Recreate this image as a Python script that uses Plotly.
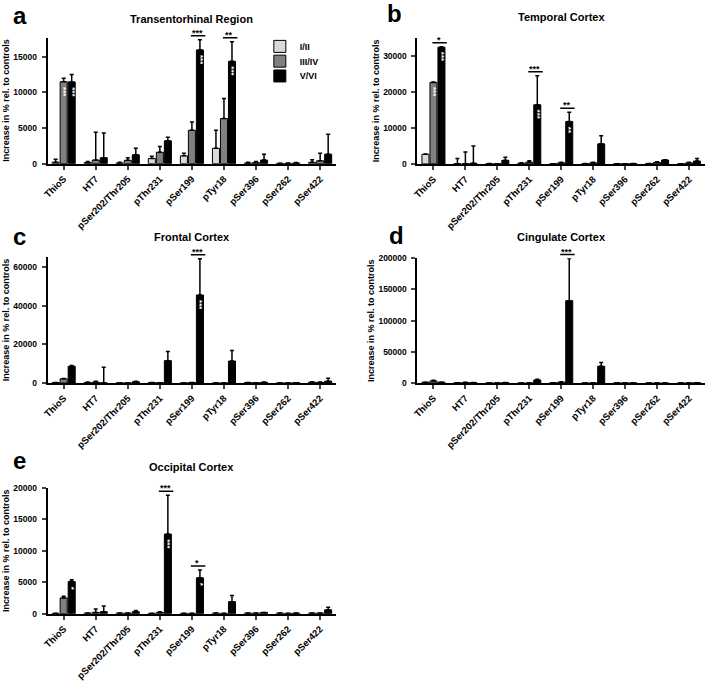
import plotly.graph_objects as go

categories = ["ThioS", "HT7", "pSer202/Thr205", "pThr231", "pSer199",
              "pTyr18", "pSer396", "pSer262", "pSer422"]
stages = ["I/II", "III/IV", "V/VI"]
stage_colors = ["#d9d9d9", "#808080", "#000000"]

# Transentorhinal region (mean, upper SEM) per stage
trans_mean = [[200, 150, 100, 730, 1100, 2150, 100, 50, 180],
              [11500, 500, 460, 1600, 4680, 6330, 150, 50, 400],
              [11470, 830, 1240, 3200, 15960, 14360, 500, 100, 1330]]
trans_sem = [[400, 150, 100, 320, 370, 2530, 100, 0, 370],
             [500, 3900, 370, 800, 1150, 2800, 150, 50, 1070],
             [1030, 3470, 910, 500, 1440, 2740, 830, 50, 2800]]

# Temporal cortex
temp_mean = [[2700, 50, 50, 200, 50, 50, 50, 100, 50],
             [22750, 50, 50, 500, 300, 300, 50, 400, 300],
             [32570, 200, 1000, 16500, 11830, 5600, 100, 1100, 800]]
temp_sem = [[100, 1500, 100, 100, 0, 100, 0, 0, 0],
            [150, 3250, 0, 400, 200, 200, 0, 200, 200],
            [130, 4800, 900, 8100, 2570, 2300, 0, 100, 700]]

# Frontal cortex
front_mean = [[300, 300, 100, 300, 100, 50, 300, 100, 500],
              [2200, 500, 100, 200, 300, 100, 200, 50, 400],
              [8700, 100, 700, 11600, 45600, 11400, 400, 200, 1000]]
front_sem = [[0, 200, 0, 0, 0, 0, 0, 0, 200],
             [200, 500, 0, 0, 0, 0, 0, 0, 200],
             [400, 8100, 300, 4800, 18800, 5500, 100, 0, 1500]]

# Cingulate cortex
cing_mean = [[1500, 500, 300, 100, 500, 200, 300, 100, 200],
             [3500, 1000, 300, 200, 1500, 300, 300, 100, 300],
             [1500, 800, 800, 5000, 132000, 27000, 300, 100, 500]]
cing_sem = [[0, 0, 0, 0, 0, 0, 0, 0, 0],
            [1000, 500, 0, 0, 500, 0, 0, 0, 0],
            [0, 0, 0, 1000, 67500, 6000, 0, 0, 0]]

# Occipital cortex
occ_mean = [[50, 100, 100, 50, 50, 100, 100, 100, 100],
            [2500, 200, 100, 200, 50, 50, 100, 50, 100],
            [5100, 300, 300, 12640, 5700, 1900, 200, 100, 600]]
occ_sem = [[0, 0, 0, 0, 0, 0, 0, 0, 0],
           [270, 530, 0, 100, 0, 0, 0, 0, 0],
           [300, 900, 200, 6160, 1250, 970, 0, 0, 400]]

# significance bars (category, label) and in-bar stars (category, stage, label)
trans_sig = [("pSer199", "***"), ("pTyr18", "**")]
temp_sig = [("ThioS", "*"), ("pThr231", "***"), ("pSer199", "**")]
front_sig = [("pSer199", "***")]
cing_sig = [("pSer199", "***")]
occ_sig = [("pThr231", "***"), ("pSer199", "*")]

trans_stars = [("ThioS", 1, "***"), ("ThioS", 2, "***"), ("pSer199", 2, "***"), ("pTyr18", 2, "***")]
temp_stars = [("ThioS", 1, "***"), ("ThioS", 2, "***"), ("pThr231", 2, "***"), ("pSer199", 2, "**")]
front_stars = [("pSer199", 2, "***")]
cing_stars = []
occ_stars = [("ThioS", 2, "*"), ("pThr231", 2, "***"), ("pSer199", 2, "*")]

panels = [
    dict(letter="a", title="Transentorhinal Region", mean=trans_mean, sem=trans_sem,
         sig=trans_sig, stars=trans_stars, ymax=17700, dtick=5000,
         px=(42, 333), py=(33, 161), lpos=(5, 11), ts=19),
    dict(letter="b", title="Temporal Cortex", mean=temp_mean, sem=temp_sem,
         sig=temp_sig, stars=temp_stars, ymax=35200, dtick=10000,
         px=(415, 705), py=(33.3, 161.3), lpos=(382, 9), ts=21),
    dict(letter="c", title="Frontal Cortex", mean=front_mean, sem=front_sem,
         sig=front_sig, stars=front_stars, ymax=65300, dtick=20000,
         px=(42, 333), py=(255.7, 383.7), lpos=(5, 235), ts=19.5),
    dict(letter="d", title="Cingulate Cortex", mean=cing_mean, sem=cing_sem,
         sig=cing_sig, stars=cing_stars, ymax=200000, dtick=50000,
         px=(415, 705), py=(257, 383.7), lpos=(384, 234), ts=21),
    dict(letter="e", title="Occipital Cortex", mean=occ_mean, sem=occ_sem,
         sig=occ_sig, stars=occ_stars, ymax=20000, dtick=5000,
         px=(42, 333), py=(490, 617.7), lpos=(5, 462), ts=21),
]

W, H = 708, 682
FONT = "Liberation Sans"
BARGAP = 0.25
slot = (1 - BARGAP) / 3
xs = list(range(len(categories)))

fig = go.Figure()
annotations = []
layout = {}

for i, p in enumerate(panels):
    n = "" if i == 0 else str(i + 1)
    xa, ya = "x" + n, "y" + n
    for k, stage in enumerate(stages):
        fig.add_trace(go.Bar(
            x=xs, y=p["mean"][k], name=stage, xaxis=xa, yaxis=ya,
            offsetgroup=stage,
            marker=dict(color=stage_colors[k], line=dict(color="black", width=1)),
            error_y=dict(type="data", symmetric=False, array=p["sem"][k],
                         arrayminus=[0] * len(xs), color="black",
                         thickness=1.5, width=2),
            showlegend=(i == 0),
            legend=("legend" if k == 0 else "legend" + str(k + 1)),
        ))
    layout["xaxis" + n] = dict(
        domain=[p["px"][0] / W, p["px"][1] / W], anchor=ya,
        range=[-0.5, len(xs) - 0.5], tickvals=xs, ticktext=categories,
        tickangle=-45, ticks="outside", ticklen=4, tickwidth=1.5,
        showline=True, linewidth=2, linecolor="black", showgrid=False,
        zeroline=False,
        tickfont=dict(family=FONT, size=9.5, weight="bold", color="black"),
    )
    layout["yaxis" + n] = dict(
        domain=[1 - p["py"][1] / H, 1 - p["py"][0] / H], anchor=xa,
        range=[0, p["ymax"]], dtick=p["dtick"], tickformat="d",
        ticks="outside", ticklen=4, tickwidth=1.5, ticklabelstandoff=3,
        showline=True, linewidth=2, linecolor="black", showgrid=False,
        zeroline=False,
        tickfont=dict(family=FONT, size=8.5, weight="bold", color="black"),
        title=dict(text="Increase in % rel. to controls", standoff=2,
                   font=dict(family=FONT, size=9, weight="bold", color="black")),
    )
    # panel title and letter
    annotations.append(dict(
        text=p["title"], xref=xa + " domain", yref=ya + " domain", x=0.5, y=1,
        xanchor="center", yanchor="middle", yshift=p["ts"], showarrow=False,
        font=dict(family=FONT, size=11, weight="bold", color="black")))
    annotations.append(dict(
        text=p["letter"], xref="paper", yref="paper",
        x=p["lpos"][0] / W, y=1 - p["lpos"][1] / H,
        xanchor="left", yanchor="middle", showarrow=False,
        font=dict(family=FONT, size=24, weight="bold", color="black")))
    # significance bars, a few pixels above the highest error bar
    for cat, lab in p["sig"]:
        c = categories.index(cat)
        top = max(p["mean"][k][c] + p["sem"][k][c] for k in range(3))
        annotations.append(dict(
            text="", xref=xa, yref=ya, x=c + 0.42, y=top,
            axref=xa, ayref=ya, ax=c - 0.08, ay=top, yshift=4,
            showarrow=True, arrowhead=0, arrowwidth=1.5, arrowcolor="black",
            standoff=0, startstandoff=0))
        annotations.append(dict(
            text=lab, xref=xa, yref=ya, x=c + 0.17, y=top,
            xanchor="center", yanchor="bottom", yshift=0, showarrow=False,
            font=dict(family=FONT, size=9, weight="bold", color="black")))
    # white stars inside bars
    for cat, k, lab in p["stars"]:
        c = categories.index(cat)
        annotations.append(dict(
            text=lab, xref=xa, yref=ya, x=c + (k - 1) * slot, y=p["mean"][k][c],
            xanchor="center", yanchor="top", yshift=-3, textangle=90,
            showarrow=False,
            font=dict(family=FONT, size=8, weight="bold", color="white")))

legend_style = dict(x=256 / W, xanchor="left", yanchor="middle",
                    bgcolor="rgba(0,0,0,0)", borderwidth=0,
                    font=dict(family=FONT, size=9, weight="bold", color="black"))
layout["legend"] = dict(y=1 - 42 / H, **legend_style)
layout["legend2"] = dict(y=1 - 57 / H, **legend_style)
layout["legend3"] = dict(y=1 - 72 / H, **legend_style)

fig.update_layout(
    width=W, height=H, margin=dict(l=0, r=0, t=0, b=0),
    paper_bgcolor="white", plot_bgcolor="white",
    barmode="group", bargap=BARGAP, bargroupgap=0.12,
    font=dict(family=FONT, size=9, color="black"),
    annotations=annotations,
    **layout,
)

# drop the page's default body margin so the figure sits at the window corner
fig.write_html("out.html", config={"displayModeBar": False},
               post_script="document.body.style.margin='0';")
